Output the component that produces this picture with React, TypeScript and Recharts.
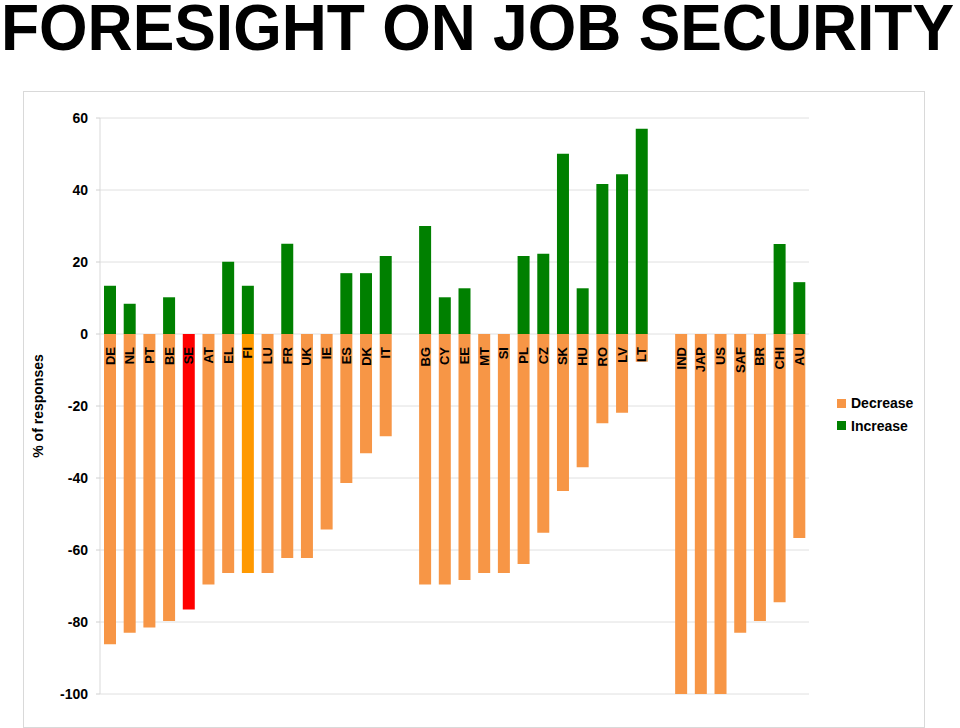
import React from "react";
import {
  BarChart,
  Bar,
  XAxis,
  YAxis,
  CartesianGrid,
  Legend,
  LabelList,
  Cell,
} from "recharts";

// "" entries are the empty slots between the EU groups and the world countries
const countries = [
  "DE", "NL", "PT", "BE", "SE", "AT", "EL", "FI", "LU", "FR", "UK", "IE", "ES", "DK", "IT",
  "",
  "BG", "CY", "EE", "MT", "SI", "PL", "CZ", "SK", "HU", "RO", "LV", "LT",
  " ",
  "IND", "JAP", "US", "SAF", "BR", "CHI", "AU",
];

const decrease = [
  -86.2, -83, -81.5, -79.7, -76.5, -69.6, -66.4, -66.4, -66.4, -62.2, -62.2, -54.3, -41.4, -33.1, -28.4,
  null,
  -69.6, -69.6, -68.3, -66.4, -66.4, -63.9, -55.2, -43.6, -37, -24.8, -21.9, -7.7,
  null,
  -100, -100, -100, -83, -79.7, -74.5, -56.7,
];

const increase = [
  13.4, 8.4, 0, 10.2, 0, 0, 20.1, 13.4, 0, 25.1, 0, 0, 16.9, 16.9, 21.7,
  null,
  30, 10.2, 12.7, 0, 0, 21.7, 22.3, 50.1, 12.7, 41.7, 44.4, 57,
  null,
  0, 0, 0, 0, 0, 25, 14.4,
];

const yTicks = [-100, -80, -60, -40, -20, 0, 20, 40, 60];

const ORANGE = "#F79646";
const GREEN = "#008000";
const highlight: Record<string, string> = { SE: "#FF0000", FI: "#FF9900" };

const data = countries.map((name, i) => ({
  name,
  Decrease: decrease[i],
  Increase: increase[i],
}));

const FONT = "'Liberation Sans', Arial, Helvetica, sans-serif";

const CountryLabel = (props: any) => {
  const { x, y, width, height, value } = props;
  if (!value || !value.trim()) return null;
  const zeroY = Math.min(y, y + height);
  const tx = x + width / 2 + 4.5;
  const ty = zeroY + 13;
  return (
    <text
      x={tx}
      y={ty}
      transform={`rotate(-90, ${tx}, ${ty})`}
      textAnchor="end"
      fontFamily={FONT}
      fontWeight="bold"
      fontSize={13}
      fill="#000"
    >
      {value}
    </text>
  );
};

const YTitle = (props: any) => {
  const { x, y, height } = props.viewBox;
  const tx = x + 14;
  const ty = y + height / 2;
  return (
    <text
      x={tx}
      y={ty}
      transform={`rotate(-90, ${tx}, ${ty})`}
      textAnchor="middle"
      dominantBaseline="central"
      fontFamily={FONT}
      fontWeight="bold"
      fontSize={14}
      fill="#000"
    >
      % of responses
    </text>
  );
};

const LegendBox = (props: any) => {
  const { payload } = props;
  return (
    <div style={{ fontFamily: FONT, fontWeight: "bold", fontSize: 14, color: "#000" }}>
      {(payload || []).map((p: any) => (
        <div
          key={p.value}
          style={{ display: "flex", alignItems: "center", height: 22.5 }}
        >
          <span
            style={{
              display: "inline-block",
              width: 9,
              height: 9,
              background: p.color,
              marginRight: 5,
            }}
          />
          {p.value}
        </div>
      ))}
    </div>
  );
};

export default function App() {
  return (
    <div
      style={{
        position: "absolute",
        left: 0,
        top: 0,
        width: 960,
        height: 728,
        background: "#fff",
        overflow: "hidden",
      }}
    >
      <svg width={960} height={60} style={{ position: "absolute", left: 0, top: 0 }}>
        <text
          x={1}
          y={50}
          textLength={953}
          lengthAdjust="spacingAndGlyphs"
          fontFamily="'Liberation Sans Narrow', 'Arial Narrow', 'Liberation Sans', sans-serif"
          fontWeight="bold"
          fontSize={65}
          fill="#000"
        >
          FORESIGHT ON JOB SECURITY
        </text>
      </svg>

      <div
        style={{
          position: "absolute",
          left: 23,
          top: 91,
          width: 902,
          height: 637,
          border: "1.5px solid #d9d9d9",
          boxSizing: "border-box",
        }}
      />

      <div style={{ position: "absolute", left: 24, top: 92 }}>
        <BarChart
          width={900}
          height={635}
          data={data}
          stackOffset="sign"
          barSize={12}
          margin={{ top: 26, right: 115, left: 0, bottom: 33 }}
        >
          <CartesianGrid vertical={false} stroke="#e0e0e0" />
          <XAxis dataKey="name" hide />
          <YAxis
            domain={[-100, 60]}
            ticks={yTicks}
            width={76}
            interval={0}
            tickSize={4}
            tickMargin={8}
            axisLine={{ stroke: "#d9d9d9" }}
            tickLine={{ stroke: "#d0d0d0" }}
            tick={{ fill: "#000", fontFamily: FONT, fontWeight: "bold", fontSize: 14 }}
            label={<YTitle />}
          />
          <Legend
            layout="horizontal"
            align="center"
            verticalAlign="middle"
            wrapperStyle={{ left: 813, top: 300, width: 100 }}
            content={<LegendBox />}
          />
          <Bar dataKey="Decrease" stackId="a" fill={ORANGE} isAnimationActive={false}>
            {data.map((d) => (
              <Cell key={d.name + "d"} fill={highlight[d.name] || ORANGE} />
            ))}
            <LabelList dataKey="name" content={<CountryLabel />} />
          </Bar>
          <Bar dataKey="Increase" stackId="a" fill={GREEN} isAnimationActive={false} />
        </BarChart>
      </div>
    </div>
  );
}
